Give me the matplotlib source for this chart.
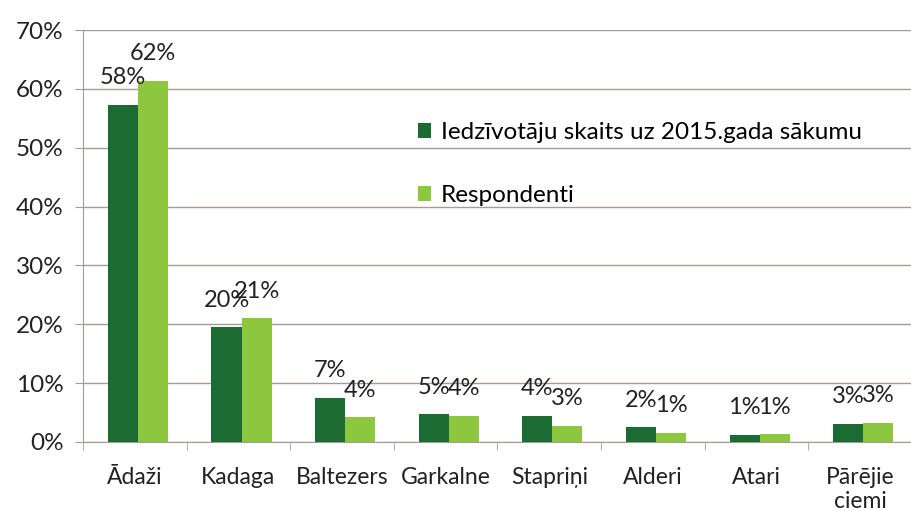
import numpy as np
import matplotlib.pyplot as plt

categories = ["Ādaži", "Kadaga", "Baltezers", "Garkalne", "Stapriņi", "Alderi", "Atari", "Pārējie\nciemi"]
iedz_vals = [57.3, 19.5, 7.5, 4.7, 4.4, 2.5, 1.2, 3.1]
resp_vals = [61.4, 21.0, 4.2, 4.5, 2.7, 1.6, 1.3, 3.3]
iedz_labels = ["58%", "20%", "7%", "5%", "4%", "2%", "1%", "3%"]
resp_labels = ["62%", "21%", "4%", "4%", "3%", "1%", "1%", "3%"]
series_names = ["Iedzīvotāju skaits uz 2015.gada sākumu", "Respondenti"]

DARK = "#1b6b33"
LIGHT = "#8dc63f"
GRID = "#a89a94"

plt.rcParams["font.family"] = ["Lato", "DejaVu Sans"]

fig = plt.figure(figsize=(9.12, 5.11), dpi=100)
ax = fig.add_axes([83 / 912, 1 - 442 / 511, 829 / 912, 412 / 511])

x = np.arange(len(categories))
w = 0.29
b1 = ax.bar(x - w / 2 + 0.03, iedz_vals, w, color=DARK, label=series_names[0], zorder=3)
b2 = ax.bar(x + w / 2 + 0.03, resp_vals, w, color=LIGHT, label=series_names[1], zorder=3)

for bars, labs in ((b1, iedz_labels), (b2, resp_labels)):
    for r, lab in zip(bars, labs):
        ax.annotate(lab, (r.get_x() + r.get_width() / 2, r.get_height()),
                    xytext=(0, 12), textcoords="offset points",
                    ha="center", va="bottom", fontsize=17, color="#222222", zorder=4)

ax.set_ylim(0, 70)
ax.set_xlim(-0.5, len(categories) - 0.5)
ax.set_yticks(np.arange(0, 71, 10))
ax.set_yticklabels([f"{v}%" for v in range(0, 71, 10)], fontsize=17.5, color="#222222")
ax.yaxis.grid(True, color=GRID, linewidth=1.0, zorder=0)
ax.set_axisbelow(True)

ax.set_xticks(x)
ax.set_xticklabels(categories, fontsize=16.5, color="#222222", linespacing=1.2)
ax.set_xticks(np.arange(-0.5, len(categories), 1), minor=True)
ax.tick_params(axis="x", which="major", length=0, pad=18)
ax.tick_params(axis="x", which="minor", length=6, color=GRID, direction="out")
ax.tick_params(axis="y", length=6, color=GRID, pad=8)

for s in ("top", "right"):
    ax.spines[s].set_visible(False)
ax.spines["left"].set_color(GRID)
ax.spines["bottom"].set_color(GRID)

fig.legend(handles=[b1, b2], labels=series_names, loc="upper left",
           bbox_to_anchor=(396 / 912, 1 - 100 / 511), frameon=False,
           fontsize=17.5, handlelength=0.55, handleheight=0.55, handletextpad=0.4,
           labelspacing=1.75)

fig.savefig("out.png", dpi=100)
